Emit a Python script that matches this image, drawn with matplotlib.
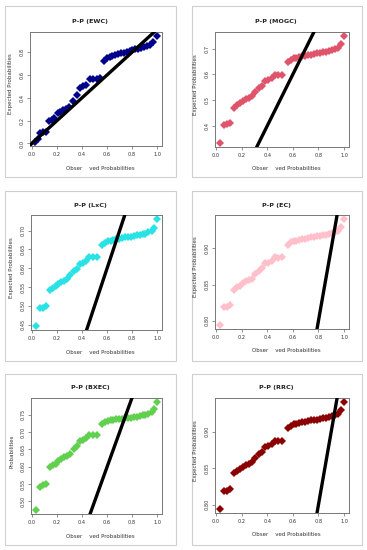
import matplotlib
matplotlib.use("Agg")
import matplotlib.pyplot as plt
from matplotlib.patches import Rectangle

# ---------------- data ----------------
titles = ["P-P (EWC)", "P-P (MOGC)", "P-P (LxC)", "P-P (EC)", "P-P (BXEC)", "P-P (RRC)"]
colors = ["#00008B", "#DF536B", "#28E2E5", "#FFC0CB", "#61D04F", "#8B0000"]
ylabels = ["Expected Probabilities", "Expected Probabilities", "Expected Probabilities",
           "Expected Probabilities", "Probabilities", "Expected Probabilities"]
xlabel = "Obser    ved Probabilities"

x_ewc = [0.024, 0.045, 0.066, 0.088, 0.110, 0.135, 0.157, 0.180, 0.205, 0.228,
         0.250, 0.272, 0.294, 0.325, 0.357, 0.385, 0.410, 0.435, 0.465, 0.490,
         0.520, 0.545, 0.575, 0.598, 0.620, 0.643, 0.665, 0.690, 0.712, 0.735,
         0.758, 0.780, 0.803, 0.826, 0.850, 0.873, 0.896, 0.920, 0.945, 0.970, 1.000]
y_ewc = [0.015, 0.035, 0.090, 0.100, 0.098, 0.195, 0.207, 0.225, 0.265, 0.278,
         0.290, 0.303, 0.318, 0.375, 0.428, 0.490, 0.500, 0.510, 0.563, 0.563,
         0.565, 0.575, 0.725, 0.745, 0.760, 0.767, 0.776, 0.787, 0.790, 0.797,
         0.805, 0.812, 0.818, 0.825, 0.830, 0.838, 0.845, 0.852, 0.865, 0.890, 0.940]

x_obs = [0.030, 0.065, 0.088, 0.110, 0.140, 0.165, 0.188, 0.210, 0.232, 0.255,
         0.278, 0.305, 0.332, 0.358, 0.383, 0.408, 0.433, 0.457, 0.487, 0.518,
         0.560, 0.582, 0.605, 0.628, 0.650, 0.673, 0.696, 0.720, 0.743, 0.766,
         0.790, 0.813, 0.836, 0.860, 0.883, 0.906, 0.930, 0.955, 0.975, 1.000]

y_mogc = [0.334, 0.403, 0.405, 0.412, 0.471, 0.480, 0.487, 0.498, 0.504, 0.508,
          0.514, 0.533, 0.546, 0.556, 0.575, 0.577, 0.585, 0.598, 0.597, 0.599,
          0.648, 0.657, 0.662, 0.664, 0.667, 0.670, 0.672, 0.675, 0.677, 0.679,
          0.681, 0.683, 0.685, 0.688, 0.690, 0.693, 0.697, 0.703, 0.716, 0.748]

y_lxc = [0.447, 0.494, 0.495, 0.500, 0.541, 0.547, 0.552, 0.559, 0.563, 0.566,
         0.570, 0.583, 0.592, 0.599, 0.612, 0.613, 0.618, 0.630, 0.629, 0.631,
         0.662, 0.668, 0.671, 0.673, 0.675, 0.677, 0.678, 0.680, 0.682, 0.683,
         0.684, 0.686, 0.687, 0.689, 0.690, 0.692, 0.695, 0.699, 0.708, 0.730]

y_ec = [0.7945, 0.8188, 0.8194, 0.8219, 0.8427, 0.8459, 0.8483, 0.8521, 0.8543, 0.8556,
        0.8578, 0.8645, 0.8690, 0.8725, 0.8792, 0.8799, 0.8827, 0.8873, 0.8869, 0.8876,
        0.9048, 0.9080, 0.9097, 0.9105, 0.9115, 0.9126, 0.9132, 0.9144, 0.9151, 0.9157,
        0.9164, 0.9172, 0.9179, 0.9189, 0.9196, 0.9206, 0.9221, 0.9241, 0.9288, 0.9400]

y_bxec = [0.476, 0.542, 0.546, 0.551, 0.600, 0.605, 0.609, 0.617, 0.622, 0.627,
          0.631, 0.638, 0.650, 0.660, 0.674, 0.678, 0.683, 0.692, 0.691, 0.692,
          0.724, 0.729, 0.732, 0.734, 0.736, 0.737, 0.738, 0.739, 0.740, 0.741,
          0.742, 0.744, 0.745, 0.746, 0.748, 0.749, 0.752, 0.757, 0.766, 0.786]

y_rrc = [0.7945, 0.8188, 0.8194, 0.8219, 0.8427, 0.8459, 0.8483, 0.8521, 0.8543, 0.8556,
         0.8578, 0.8645, 0.8690, 0.8725, 0.8792, 0.8799, 0.8827, 0.8873, 0.8869, 0.8876,
         0.9048, 0.9080, 0.9097, 0.9105, 0.9115, 0.9126, 0.9132, 0.9144, 0.9151, 0.9157,
         0.9164, 0.9172, 0.9179, 0.9189, 0.9196, 0.9206, 0.9221, 0.9241, 0.9288, 0.9400]

xs = [x_ewc, x_obs, x_obs, x_obs, x_obs, x_obs]
ys = [y_ewc, y_mogc, y_lxc, y_ec, y_bxec, y_rrc]

x_ticks = [0.0, 0.2, 0.4, 0.6, 0.8, 1.0]
y_ticks = [
    [0.0, 0.2, 0.4, 0.6, 0.8],
    [0.4, 0.5, 0.6, 0.7],
    [0.45, 0.50, 0.55, 0.60, 0.65, 0.70],
    [0.80, 0.85, 0.90],
    [0.50, 0.55, 0.60, 0.65, 0.70, 0.75],
    [0.80, 0.85, 0.90],
]
y_ticklabels = [
    ["0.0", "0.2", "0.4", "0.6", "0.8"],
    ["0.4", "0.5", "0.6", "0.7"],
    ["0.45", "0.50", "0.55", "0.60", "0.65", "0.70"],
    ["0.80", "0.85", "0.90"],
    ["0.50", "0.55", "0.60", "0.65", "0.70", "0.75"],
    ["0.80", "0.85", "0.90"],
]

# ---------------- layout (pixels) ----------------
W, H = 367, 550
frames = [(5, 6, 176, 177), (192, 6, 362, 177),
          (5, 191, 176, 361), (192, 191, 362, 361),
          (5, 374, 176, 545), (192, 374, 362, 545)]
axboxes = [(30, 32, 162, 146), (215, 32, 349, 147),
           (31, 215, 162, 330), (215, 215, 349, 329),
           (31, 398, 162, 514), (215, 398, 349, 513)]

fig = plt.figure(figsize=(W / 100, H / 100), dpi=100)
fig.patch.set_facecolor("white")

def fx(px):
    return px / W

def fy(py):
    return 1 - py / H

for k in range(6):
    fl, ft, fr, fb = frames[k]
    fig.patches.append(Rectangle((fx(fl), fy(fb)), fx(fr) - fx(fl), fy(ft) - fy(fb),
                                 transform=fig.transFigure, fill=False,
                                 edgecolor="#cfcfcf", linewidth=0.8))
    l, t, r, b = axboxes[k]
    ax = fig.add_axes([fx(l), fy(b), fx(r) - fx(l), fy(t) - fy(b)])
    x = xs[k]
    y = ys[k]
    xr = max(x) - min(x)
    yr = max(y) - min(y)
    ax.set_xlim(min(x) - 0.04 * xr, max(x) + 0.04 * xr)
    ax.set_ylim(min(y) - 0.04 * yr, max(y) + 0.04 * yr)
    ax.plot(x, y, linestyle="none", marker="D", markersize=4.0,
            color=colors[k], markeredgewidth=0, zorder=2)
    ax.axline((0, 0), slope=1, color="black", linewidth=2.4, zorder=3)
    ax.set_xticks(x_ticks)
    ax.set_xticklabels([f"{v:.1f}" for v in x_ticks], fontsize=3.6, color="#333333")
    ax.set_yticks(y_ticks[k])
    ax.set_yticklabels(y_ticklabels[k], fontsize=3.6, rotation=90, va="center",
                       color="#333333")
    ax.tick_params(length=2.2, width=0.5, colors="#666666", pad=2)
    for tl in ax.get_xticklabels() + ax.get_yticklabels():
        tl.set_color("#333333")
    for sp in ax.spines.values():
        sp.set_color("#777777")
        sp.set_linewidth(0.7)
    cx = (l + r) / 2
    fig.text(fx(cx - 6), fy(t - 10), titles[k], fontsize=4.6, fontweight="bold",
             ha="center", va="center", color="#222222")
    fig.text(fx(cx + 4), fy(b + 22), xlabel, fontsize=4.0, ha="center", va="center",
             color="#333333")
    fig.text(fx(l - 19), fy((t + b) / 2 - 5), ylabels[k], fontsize=4.0, rotation=90,
             ha="center", va="center", color="#333333")

fig.savefig("out.png", dpi=100, facecolor="white")
